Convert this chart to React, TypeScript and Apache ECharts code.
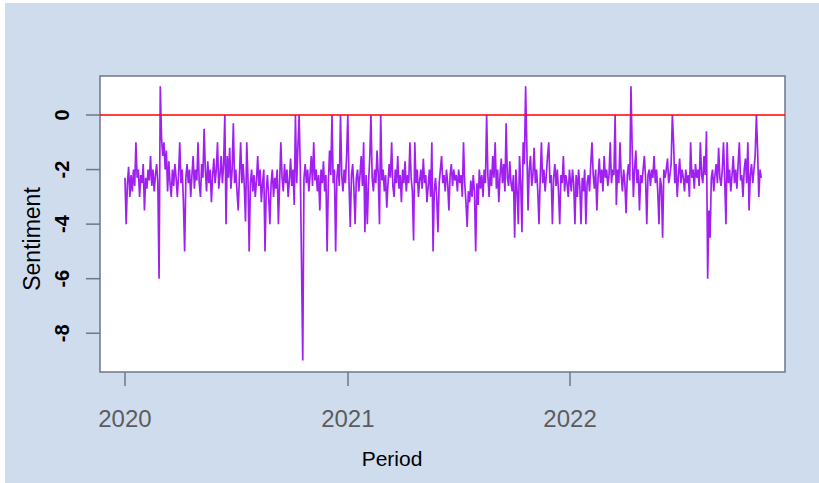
import React, { useEffect, useRef } from "react";
import * as echarts from "echarts";

// Sentiment values, one every 2 days from Jan 1 of each year
const s2020: number[] = [
  -2.3, -4, -2.5, -1.9, -3, -2.2, -2.8, -2, -2.6, -1,
  -2.3, -2, -3, -2.2, -2.5, -1.8, -3.5, -2.3, -2.7, -2,
  -2.4, -1.5, -2.6, -2, -2.8, -2.2, -1.8, -2.5, -6, 1.05,
  -0.8, -1.5, -1, -2, -1.3, -2.8, -1.7, -2.5, -3, -2,
  -2.6, -1.8, -2.3, -3, -2.2, -1, -2.5, -2, -3.2, -5,
  -2.3, -1.8, -2.5, -2, -3, -2.2, -1.5, -2.7, -2, -2.4,
  -1, -2.5, -3, -1.8, -2.3, -0.5, -2, -2.8, -1.7, -2.5,
  -2, -3.2, -2.2, -1.6, -2.5, -2, -1, -2.7, -2.2, -1.5,
  -2.5, -1.8, 0, -4, -1.5, -2.3, -1.2, -2.7, -2, -0.3,
  -2.5, -2, -2.8, -3.5, -2.2, -1, -2.5, -1.8, -2.6, -3.9,
  -1, -2.3, -5, -2.5, -2, -2.8, -2.2, -3, -2.4, -1.5,
  -2.6, -2, -3.2, -2.5, -2, -5, -2.8, -2.2, -3, -4,
  -2.5, -2, -3, -2.3, -2.7, -2, -4, -2.5, -1, -2.3,
  -2.8, -1.8, -2.5, -2, -3, -2.4, -1.6, -2.6, -2, -3.3,
  0, -2.5, -1.2, 0, -2, -5.5, -9, -2.3, -1.8, -2.5,
  -2, -2.8, -2.2, -1.5, -2.6, -1, -2.4, -2, -2.8, -2.2,
  -3.5, -2, -2.5, -1.7, -2.8, -2.2, -5, -2.5, -1.3, -2.2,
  0, -2.5, -2, -5, -2.3, -1.8, -2.6, 0, -2.2, -2.8,
  -2, -2.5, -1.5,
];

const s2021: number[] = [
  0, -2.5, -4.1, -2.2, -1.8, -2.7, -4, -2.3, -2, -2.8,
  -2.2, -1.5, -2.6, -1, -4.3, -2.2, -4, -2.5, -1.6, 0,
  -2.3, -2.8, -2, -2.5, -1.3, -2.2, -4, 0, -2.4, -2,
  -2.8, -2.2, -3.4, -2.5, -1.8, -2.3, -1, -2.6, -3, -2,
  -2.5, -1.5, -2.7, -2.2, -3.2, -2, -2.5, -1.7, -2.8, -2.2,
  -2.5, -1, -2.3, -2.8, -4.6, -1, -2.5, -2, -3, -2.4,
  -2, -2.7, -1.6, -2.5, -2.2, -3.2, -2.6, -2, -3, -1,
  -5, -2.8, -2.3, -3, -4.3, -2.5, -2, -1.5, -2.5, -2.2,
  -2.8, -2, -2.5, -3.5, -2.2, -1.8, -2.6, -2, -2.4, -2.2,
  -2.8, -2, -2.5, -2.2, -3, -1, -2.5, -3.2, -4.1, -2.8,
  -3.2, -2.4, -3, -2.2, -2.8, -5, -2.5, -3.3, -2, -2.7,
  -2.2, -3, -2, -2.5, 0, -2.2, -3, -2, -2.6, -1.5,
  -2.3, -1, -2.7, -2, -3.2, -2.2, -1.6, -2.5, -1.8, -2.8,
  -0.3, -2.3, -2.6, -1.7, -2.5, -2.8, -2.2, -4.5, -2, -2.8,
  -4, -1.5, -2.5, -4.3, -1, -1.8, 1.05, -1.2, -3.5, -2,
  -1.5, -2.6, -2.2, -1.2, -2.5, -2, -2.8, -4, -2.3, -1,
  -2.5, -2, -2.8, -2.2, -1.5, -1, -2.5, -2.2, -4, -2.3,
  -1.8, -2.6, -2, -2.8, -4, -2.2, -2.5, -1.5, -2.8, -2.2,
  -2.5, -3, -2,
];

const s2022: number[] = [
  -2.3, -2.8, -2, -2.5, -4, -2.2, -3, -2, -2.6, -4,
  -2.3, -2.8, -2, -4, -2.5, -2.2, -2.8, -1.8, -1, -2.2,
  -2.7, -2, -3.5, -2.3, -1.6, -2.5, -2, -2.8, -1.5, -2.3,
  -2, -2.6, -2.2, -1, -2.5, -2, -2.2, 0, -3.3, -2,
  -2.5, -1, -2.2, -2.8, -2, -2.5, -3.6, -2.2, -1.8, -2.4,
  1.05, -1.2, -3, -2, -1.3, -2.5, -2, -3.5, -2.2, -2.5,
  -2, -1.5, -2.3, -4, -2.2, -2, -2.6, -2, -2.3, -1.5,
  -2.5, -2, -2.8, -4, -2.3, -2.6, -4.5, -2, -2.3, -2,
  -1.6, -2.5, -2.2, -1.8, 0, -1, -2.5, -1.8, -3, -2.2,
  -1.6, -2.5, -2, -2.3, -2.8, -2, -2.5, -2.2, -3, -1,
  -2.3, -2, -2.7, -1.8, -2.3, -2, -2.6, -1, -2.2, -2.5,
  -1.5, -2.2, -0.6, -6, -3.5, -4.5, -2.3, -2, -2.8, -2.2,
  -1.8, -2.5, -1.2, -2.3, -2.6, -2, -1, -2.4, -4, -1,
  -2.5, -2, -2.8, -2.2, -1.5, -2.5, -2, -2.7, -1.8, -1,
  -2.4, -2.2, -3, -2, -1.6, -2.5, -1, -3.5, -2.2, -1.8,
  -2.5, -2, -1.5, 0, -1.3, -3, -2, -2.3,
];

const seriesYears: number[] = [2020, 2021, 2022];
const stepDays = 2;
const tickYears: number[] = [2020, 2021, 2022];
const yTicks: number[] = [-8, -6, -4, -2, 0];
const refLevel = 0;

const xTitle = "Period";
const yTitle = "Sentiment";

export default function App() {
  const ref = useRef<HTMLDivElement>(null);

  useEffect(() => {
    if (!ref.current) return;
    const chart = echarts.init(ref.current, undefined, { renderer: "svg" });

    const yearly = [s2020, s2021, s2022];
    const data: [number, number][] = [];
    yearly.forEach((arr, k) => {
      arr.forEach((v, i) => {
        data.push([new Date(seriesYears[k], 0, 1 + stepDays * i).getTime(), v]);
      });
    });
    const xTicks = tickYears.map((y) => new Date(y, 0, 1).getTime());
    const axisGray = "#6f7785";
    const font = "Liberation Sans, Arial, sans-serif";
    const left = 100;
    const top = 76;
    const height = 296;
    const yMin = -9.42;
    const yMax = 1.43;
    const tickLen = 14;

    const titles: any[] = [
      {
        type: "text",
        x: 392,
        y: 458,
        style: {
          text: xTitle,
          fill: "#000000",
          fontSize: 21,
          fontFamily: font,
          textAlign: "center",
          textVerticalAlign: "middle",
        },
      },
      {
        type: "text",
        x: 32,
        y: 239,
        rotation: Math.PI / 2,
        style: {
          text: yTitle,
          fill: "#000000",
          fontSize: 23,
          fontFamily: font,
          textAlign: "center",
          textVerticalAlign: "middle",
        },
      },
    ];

    chart.setOption({
      animation: false,
      grid: {
        left,
        top,
        width: 685,
        height,
        show: true,
        backgroundColor: "#ffffff",
        borderColor: axisGray,
        borderWidth: 1.5,
        outerBoundsMode: "none",
        containLabel: false,
      },
      xAxis: {
        type: "value",
        min: new Date(2019, 10, 21).getTime(),
        max: new Date(2022, 11, 20).getTime(),
        axisLine: { show: false, onZero: false },
        splitLine: { show: false },
        axisTick: {
          show: true,
          customValues: xTicks,
          length: tickLen,
          lineStyle: { color: axisGray, width: 1.5 },
        },
        axisLabel: {
          customValues: xTicks,
          formatter: (v: number) => String(new Date(v).getFullYear()),
          color: "#5c5c5c",
          fontSize: 24,
          fontFamily: font,
          margin: 34,
        },
      },
      yAxis: {
        type: "value",
        min: yMin,
        max: yMax,
        axisLine: { show: false, onZero: false },
        splitLine: { show: false },
        axisTick: { show: false },
        axisLabel: {
          show: true,
          customValues: yTicks,
          rotate: 90,
          color: "#000000",
          fontWeight: "bold",
          fontSize: 20,
          fontFamily: font,
          margin: 28,
        },
      },
      graphic: titles,
      series: [
        {
          type: "line",
          data,
          showSymbol: false,
          symbol: "none",
          lineStyle: { color: "#a020f0", width: 1.7 },
          markLine: {
            silent: true,
            symbol: ["none", "none"],
            label: { show: false },
            lineStyle: { color: "#ff0000", width: 1.5, type: "solid" },
            data: [{ yAxis: refLevel }],
          },
        },
      ],
    });

    // y-axis tick marks positioned through the y scale
    const tickMarks = yTicks.map((v) => {
      let py = Number(chart.convertToPixel({ yAxisIndex: 0 }, v));
      if (!isFinite(py)) py = top + ((yMax - v) / (yMax - yMin)) * height;
      return {
        type: "rect",
        z: 100,
        shape: { x: left - tickLen, y: py - 0.75, width: tickLen, height: 1.5 },
        style: { fill: axisGray },
      };
    });
    chart.setOption({ graphic: [...titles, ...tickMarks] });

    return () => chart.dispose();
  }, []);

  return (
    <div
      style={{
        position: "absolute",
        left: 0,
        top: 0,
        width: 819,
        height: 483,
        background: "#ffffff",
      }}
    >
      <div
        style={{
          position: "absolute",
          left: 5,
          top: 3,
          width: 814,
          height: 480,
          background: "#cfdcee",
        }}
      />
      <div
        ref={ref}
        style={{ position: "absolute", left: 0, top: 0, width: 819, height: 483 }}
      />
    </div>
  );
}
